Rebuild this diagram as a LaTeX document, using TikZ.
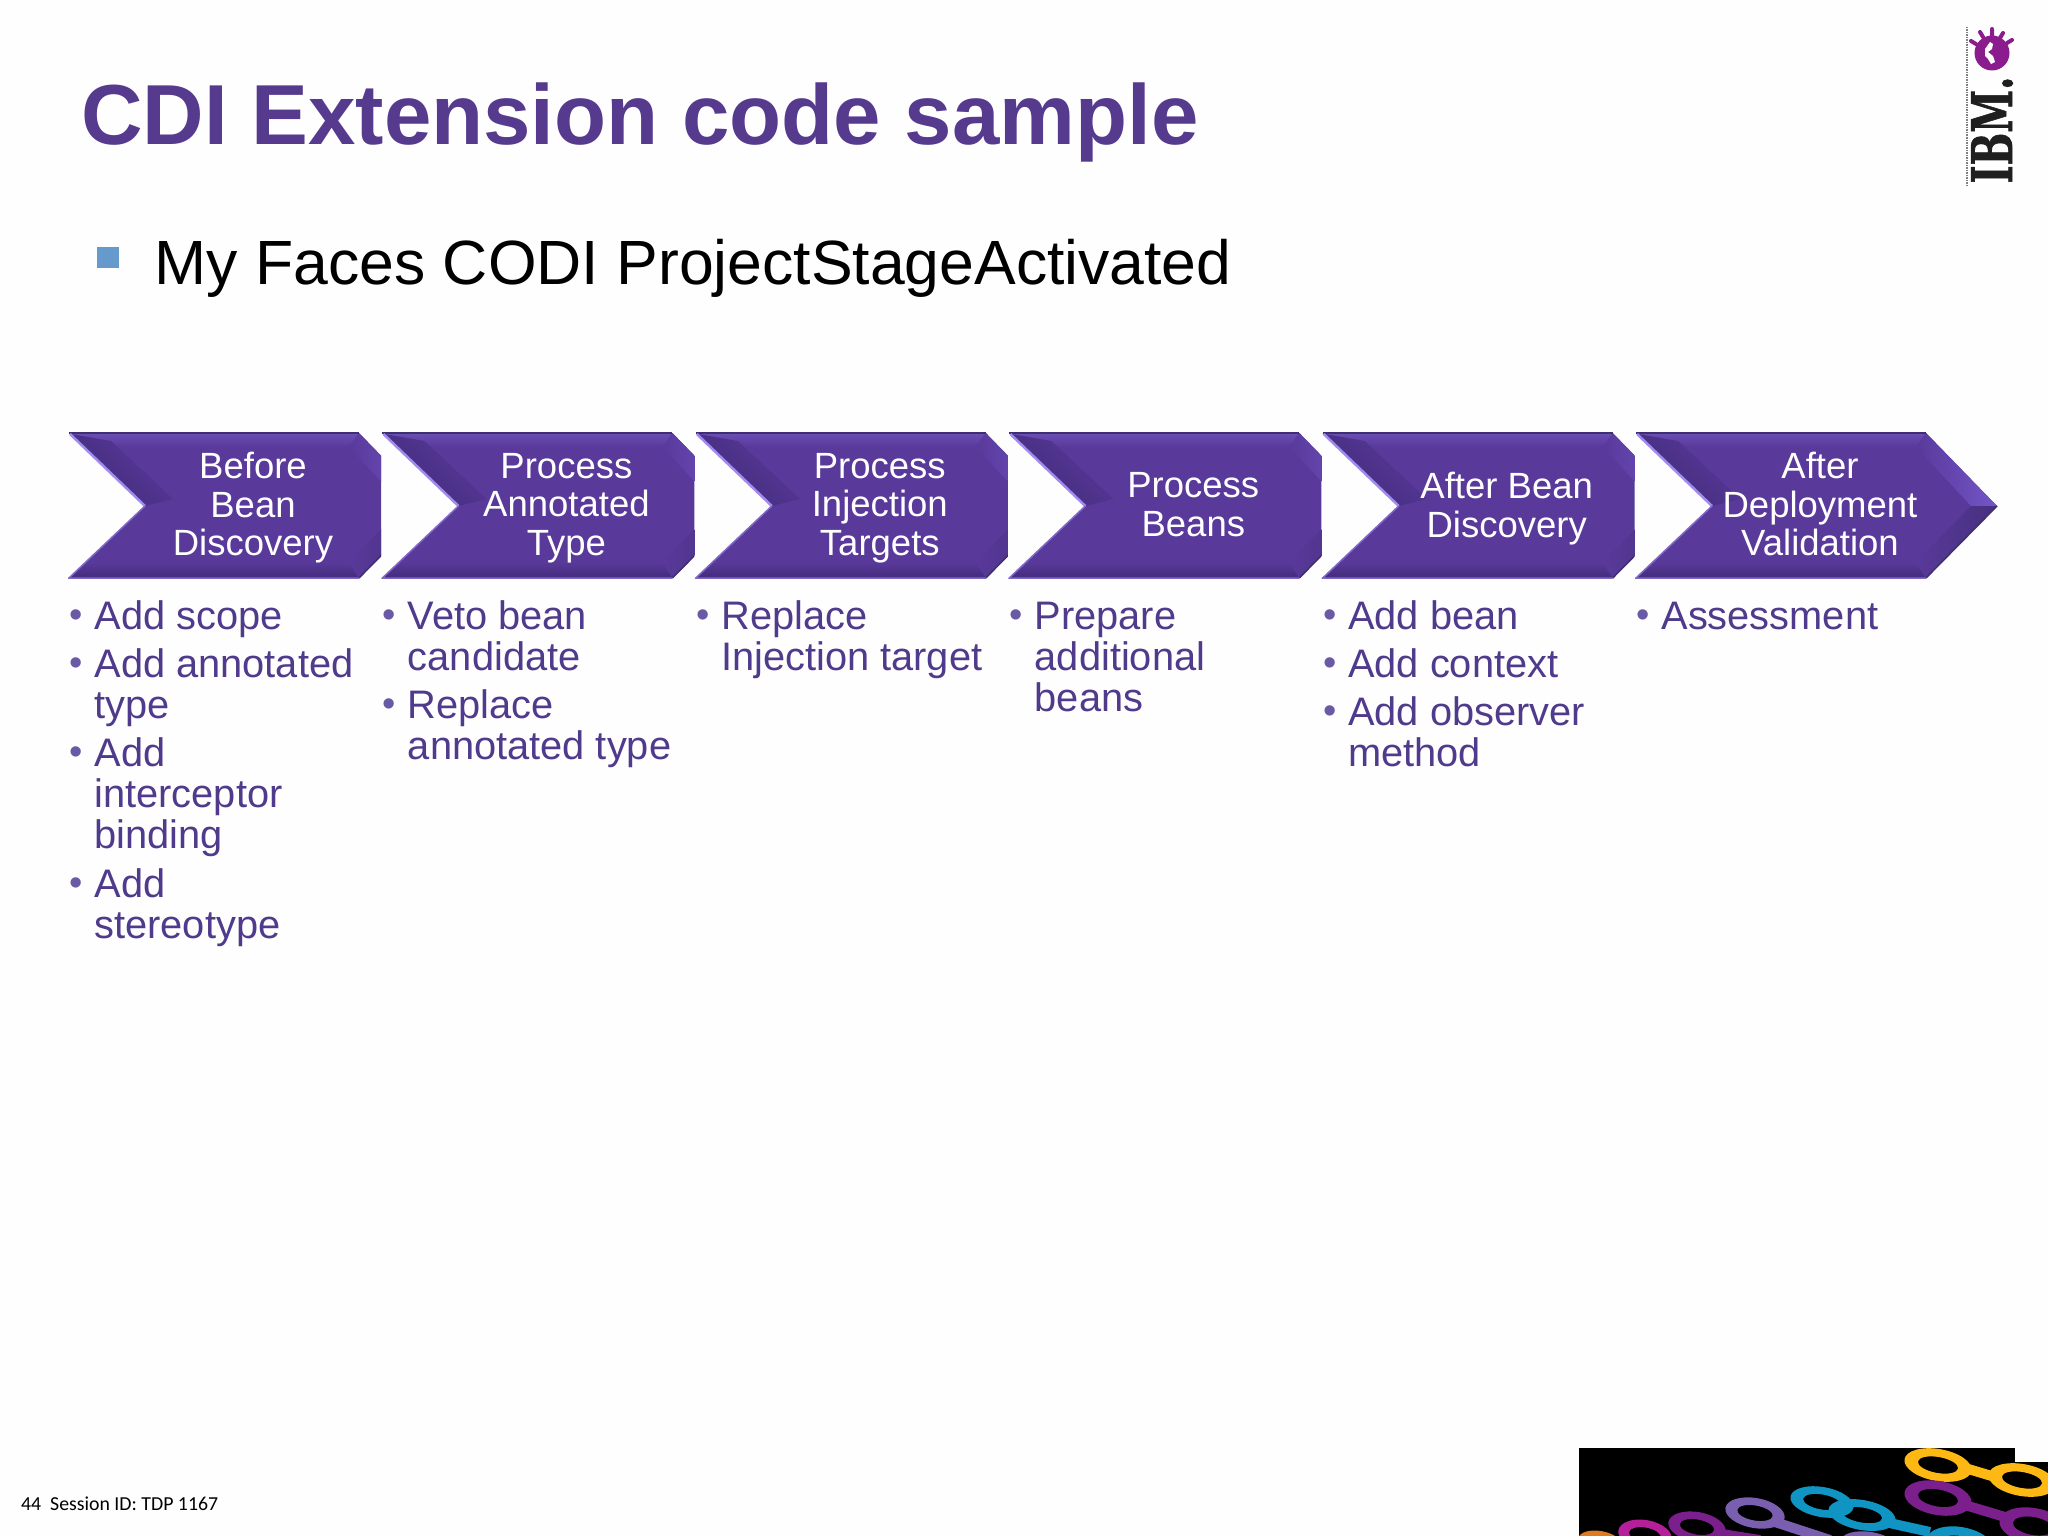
\documentclass[tikz,border=0pt]{standalone}
\usepackage{fontspec}
\setmainfont{Liberation Sans}
\newfontfamily\footfont{Carlito}
\newfontfamily\logofont[BoldFeatures={FakeBold=1.5}]{DejaVu Serif}
\definecolor{pagebg}{HTML}{FEFEFE}
\definecolor{titlecol}{HTML}{553A8E}
\definecolor{listcol}{HTML}{4F3A8C}
\definecolor{bulletcol}{HTML}{6A5AA6}
\definecolor{facecol}{HTML}{59399A}
\definecolor{stripelight}{HTML}{6B4FB5}
\definecolor{stripedark}{HTML}{432C7C}
\definecolor{shadowcol}{HTML}{412B7A}
\definecolor{bevellight}{HTML}{7356C8}
\definecolor{beveldark}{HTML}{46307F}
\definecolor{edgelight}{HTML}{A08CF0}
\definecolor{edgemid}{HTML}{7F68C8}
\definecolor{edgedark}{HTML}{3F2F70}
\definecolor{squarecol}{HTML}{6699CC}
\definecolor{globecol}{HTML}{8A1C8E}
\definecolor{ringyellow}{HTML}{FDB813}
\definecolor{ringpurple}{HTML}{7B1F8C}
\definecolor{ringblue}{HTML}{0F94C4}
\definecolor{ringlav}{HTML}{7A5FB0}
\definecolor{ringmag}{HTML}{B5209A}
\definecolor{ringorange}{HTML}{E07A20}
\tikzset{
  titletext/.style={anchor=base west,inner sep=0pt,text=titlecol,font=\fontsize{85.2}{90}\selectfont\bfseries},
  bodytext/.style={anchor=base west,inner sep=0pt,text=black,font=\fontsize{62.5}{70}\selectfont},
  chevtext/.style={anchor=center,inner sep=0pt,align=center,text=white,font=\fontsize{36.5}{38.5}\selectfont},
  listtext/.style={anchor=base west,inner sep=0pt,text=listcol,font=\fontsize{39.8}{41}\selectfont},
  bullettext/.style={anchor=base,inner sep=0pt,text=bulletcol,font=\fontsize{38}{38}\selectfont},
  foottext/.style={anchor=base west,inner sep=0pt,text=black,font=\fontsize{19.8}{22}\selectfont\footfont},
  bar/.style={line width=10pt},
}
\newcommand{\LL}[1]{\hbox{#1}}
\newcommand{\litem}[4]{%
  \node[bullettext] (#1b) at (#2+7,#3-2) {•};
  \node[listtext] (#1) at (#2+25.3,#3) {\vtop{\baselineskip=41pt #4}};
}
\newcommand{\ringshape}[5]{%
  \fill[#1,even odd rule,rotate around={-10:(#2,#3)}] (#2,#3) ellipse [x radius=#4,y radius=#5] (#2,#3) ellipse [x radius=0.6*#4,y radius=0.5*#5];
}
\newcommand{\chev}[4]{%
\begin{scope}[shift={(#2,0)}]
  \clip (-1,425) rectangle (#4,590);
  \fill[facecol] (0,433) -- (290,433) -- (361,506) -- (290,578) -- (0,578) -- (76,506) -- cycle;
  \shade[top color=stripelight,bottom color=facecol] (0,433) -- (290,433) -- (280,447) -- (20,447) -- cycle;
  \shade[top color=facecol,bottom color=stripedark] (20,562) -- (280,562) -- (290,578) -- (0,578) -- cycle;
  \shade[top color=shadowcol,bottom color=facecol,shading angle=135] (2,434) -- (42,441) -- (104,499) -- (76,506) -- cycle;
  \shade[left color=facecol,right color=bevellight] (290,433) -- (361,506) -- (335,506) -- (280,447) -- cycle;
  \shade[left color=facecol,right color=beveldark] (361,506) -- (335,506) -- (280,562) -- (290,578) -- cycle;
  \draw[edgedark,line width=2pt] (0,433) -- (290,433);
  \draw[edgedark,line width=1.5pt] (361,506) -- (290,578);
  \draw[edgelight,line width=2.5pt] (1,434) -- (76,506);
  \draw[edgemid,line width=1.5pt] (76,506) -- (0,578) -- (290,578);
  \coordinate (#1) at (184,#3);
\end{scope}}
\begin{document}
\begin{tikzpicture}[x=1pt,y=-1pt]
\useasboundingbox (0,0) rectangle (2048,1536);
\fill[pagebg] (0,0) rectangle (2048,1536);

\node[titletext] (title) at (81,145) {CDI Extension code sample};
\fill[squarecol] (97,247) rectangle (119,268);
\node[bodytext] (body) at (154.5,284) {My Faces CODI ProjectStageActivated};

\chev{c1}{69}{504}{312}
\chev{c2}{382.4}{504}{312}
\chev{c3}{695.8}{504}{312}
\chev{c4}{1009.3}{504.8}{312}
\chev{c5}{1322.7}{504.8}{312}
\chev{c6}{1636}{504}{400}
\node[chevtext] (t1) at (c1) {Before\\Bean\\\smash{Discovery}};
\node[chevtext] (t2) at (c2) {Process\\Annotated\\\smash{Type}};
\node[chevtext] (t3) at (c3) {Process\\Injection\\\smash{Targets}};
\node[chevtext] (t4) at (c4) {Process\\Beans};
\node[chevtext] (t5) at (c5) {After Bean\\\smash{Discovery}};
\node[chevtext] (t6) at (c6) {After\\Deployment\\Validation};

\litem{a1}{69}{629.5}{\LL{Add scope}}
\litem{a2}{69}{677}{\LL{Add annotated}\LL{type}}
\litem{a3}{69}{766}{\LL{Add}\LL{interceptor}\LL{binding}}
\litem{a4}{69}{897}{\LL{Add}\LL{stereotype}}
\litem{b1}{382.4}{629.5}{\LL{Veto bean}\LL{candidate}}
\litem{b2}{382.4}{718}{\LL{Replace}\LL{annotated type}}
\litem{d1}{695.8}{629.5}{\LL{Replace}\LL{Injection target}}
\litem{e1}{1009.3}{629.5}{\LL{Prepare}\LL{additional}\LL{beans}}
\litem{f1}{1322.7}{629.5}{\LL{Add bean}}
\litem{f2}{1322.7}{677}{\LL{Add context}}
\litem{f3}{1322.7}{725}{\LL{Add observer}\LL{method}}
\litem{g1}{1636}{629.5}{\LL{Assessment}}

\node[foottext] (foot) at (21,1510) {44\ \ Session ID: TDP 1167};

% logo
\draw[gray,line width=1.5pt,dash pattern=on 1.5pt off 1pt] (1967,27) -- (1967,186);
\fill[globecol] (1992,53) circle (17.5);
\fill[pagebg] (1990,42) -- (1993,44) -- (1992,49) -- (1988,52) -- (1993,56) -- (1995,62) -- (1991,64) -- (1988,59) -- (1985,56) -- (1985,49) -- cycle;
\draw[globecol,line width=4pt,line cap=round]
  (1992,29) -- (1992,38)
  (1980,32) -- (1983,37)
  (2003,33) -- (2000,38)
  (1971,41) -- (1976,44)
  (2012,40) -- (2007,43);
\node[anchor=center,inner sep=0pt,rotate=90,text=black!88,font=\fontsize{56}{56}\selectfont\bfseries\logofont] (logo) at (1992,130) {\scalebox{.69}[1]{IBM.}};

% bottom-right artwork
\fill[black] (1579,1448) rectangle (2015,1536);
\fill[black] (2015,1462) rectangle (2048,1536);
\begin{scope}
\clip (1579,1448) -- (2015,1448) -- (2015,1462) -- (2048,1462) -- (2048,1536) -- (1579,1536) -- cycle;
\ringshape{ringyellow}{1938}{1465}{34}{16}
\ringshape{ringyellow}{2022}{1480}{34}{16}
\draw[ringyellow,bar] (1965,1468) -- (1995,1477);
\ringshape{ringpurple}{1938}{1498}{34}{17}
\ringshape{ringpurple}{2033}{1526}{34}{18}
\draw[ringpurple,bar] (1965,1505) -- (2005,1517);
\ringshape{ringblue}{1822}{1502}{32}{15}
\ringshape{ringblue}{1862}{1515}{34}{15}
\draw[ringblue,bar] (1885,1522) -- (1930,1532);
\ringshape{ringblue}{1960}{1545}{34}{18}
\ringshape{ringlav}{1755}{1513}{30}{15}
\draw[ringlav,bar] (1775,1522) -- (1830,1540);
\ringshape{ringlav}{1870}{1546}{30}{14}
\ringshape{ringpurple}{1697}{1527}{29}{15}
\draw[ringpurple,bar] (1715,1533) -- (1760,1540);
\ringshape{ringmag}{1645}{1535}{27}{15}
\ringshape{ringorange}{1600}{1542}{22}{11}
\end{scope}
\end{tikzpicture}
\end{document}
